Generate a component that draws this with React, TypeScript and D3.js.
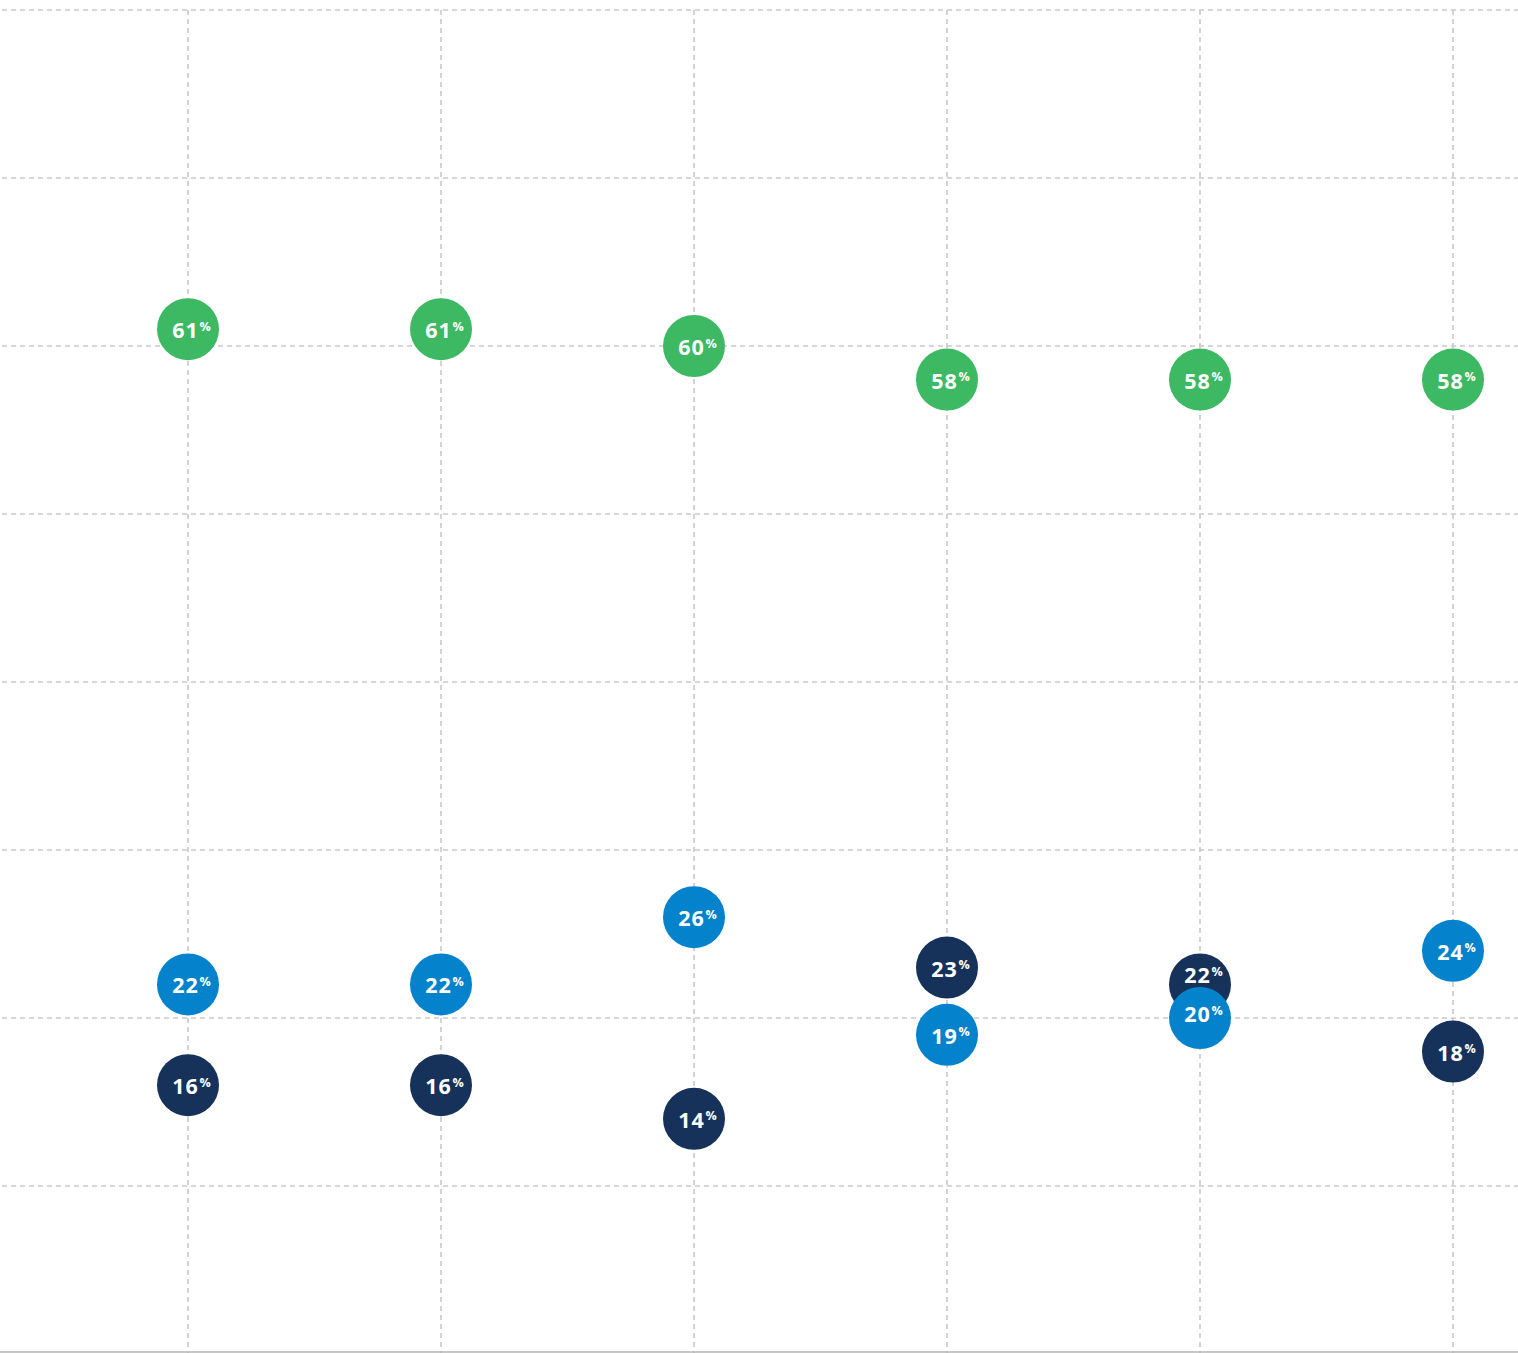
import React from "react";
import * as d3 from "d3";

const categories = ["A", "B", "C", "D", "E", "F"];
const greenValues = [61, 61, 60, 58, 58, 58];
const navyValues = [16, 16, 14, 23, 22, 18];
const blueValues = [22, 22, 26, 19, 20, 24];
const yTicks = [10, 20, 30, 40, 50, 60, 70, 80];

const W = 1518;
const H = 1353;

export default function App() {
  const x = d3.scalePoint<string>().domain(categories).range([188, 1453]);
  const y = d3.scaleLinear().domain([0, 80]).range([1354, 10]);
  const series = [
    { values: greenValues, color: "#3db863" },
    { values: navyValues, color: "#16325b" },
    { values: blueValues, color: "#0482cb" },
  ];
  const r = 31;
  const labelShift = (si: number, i: number) => {
    const v = series[si].values[i];
    let shift = 0;
    series.forEach((o, oi) => {
      if (oi === si) return;
      const d = y(o.values[i]) - y(v);
      if (Math.abs(d) < 2 * r) {
        shift += oi > si ? -Math.sign(d) * 10 : -5;
      }
    });
    return shift;
  };
  return (
    <svg
      width={W}
      height={H}
      style={{ position: "absolute", left: 0, top: 0, background: "#fff" }}
    >
      <g>
        {yTicks.map((t) => (
          <line
            key={"h" + t}
            x1={2}
            x2={W}
            y1={y(t)}
            y2={y(t)}
            stroke="#c9c9c9"
            strokeWidth={1.6}
            strokeDasharray="5 4"
          />
        ))}
        {categories.map((c) => (
          <line
            key={"v" + c}
            x1={x(c)}
            x2={x(c)}
            y1={y(80)}
            y2={H}
            stroke="#c9c9c9"
            strokeWidth={1.6}
            strokeDasharray="5 4"
          />
        ))}
      </g>
      <line x1={0} x2={W} y1={H - 1} y2={H - 1} stroke="#b4b4b4" strokeWidth={1.5} />
      {series.map((s, si) =>
        s.values.map((v, i) => {
          const cx = x(categories[i])!;
          const cy = y(v);
          return (
            <g key={si + "-" + i}>
              <circle cx={cx} cy={cy} r={r} fill={s.color} />
              <text
                x={cx + 4}
                y={cy + 9 + labelShift(si, i)}
                textAnchor="middle"
                fill="#fff"
                fontFamily="'Open Sans', sans-serif"
                fontWeight={700}
                fontSize={21.5}
                letterSpacing={1}
              >
                {v}
                <tspan fontSize={12.5} dy={-7.5} dx={0.5}>%</tspan>
              </text>
            </g>
          );
        })
      )}
    </svg>
  );
}
